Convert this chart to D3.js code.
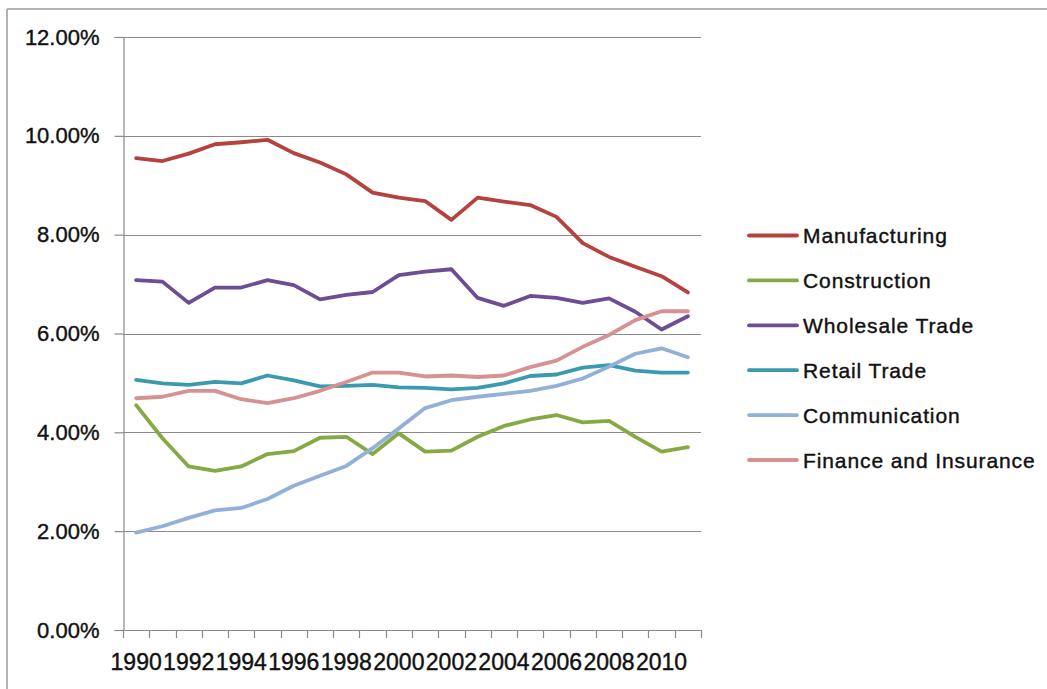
<!DOCTYPE html>
<html>
<head>
<meta charset="utf-8">
<script src="https://cdn.jsdelivr.net/npm/d3@7"></script>
<style>
  html, body { margin: 0; padding: 0; background: #fff; }
  svg { display: block; }
  text { font-family: "Liberation Sans", Arial, sans-serif; fill: #111; stroke: #111; stroke-width: 0.4px; }
</style>
</head>
<body>
<svg id="chart" width="1047" height="689"></svg>
<script>
const years = d3.range(1990, 2012);
const yTicks = [0, 2, 4, 6, 8, 10, 12];
const xLabelYears = [1990, 1992, 1994, 1996, 1998, 2000, 2002, 2004, 2006, 2008, 2010];

const seriesNames = ["Manufacturing", "Construction", "Wholesale Trade", "Retail Trade", "Communication", "Finance and Insurance"];
const seriesColors = ["#b5423f", "#86aa43", "#6d4d93", "#3b9ab0", "#93b0d9", "#d69190"];

const manufacturing = [9.55, 9.49, 9.64, 9.83, 9.87, 9.92, 9.65, 9.46, 9.22, 8.85, 8.75, 8.68, 8.30, 8.75, 8.67, 8.60, 8.36, 7.83, 7.55, 7.35, 7.16, 6.83];
const construction  = [4.55, 3.88, 3.31, 3.22, 3.31, 3.56, 3.62, 3.89, 3.91, 3.56, 3.98, 3.61, 3.63, 3.91, 4.13, 4.26, 4.35, 4.20, 4.23, 3.91, 3.61, 3.70];
const wholesale     = [7.08, 7.05, 6.62, 6.93, 6.93, 7.08, 6.98, 6.69, 6.78, 6.84, 7.18, 7.25, 7.30, 6.72, 6.56, 6.76, 6.72, 6.62, 6.71, 6.44, 6.08, 6.35];
const retail        = [5.06, 4.99, 4.96, 5.02, 4.99, 5.15, 5.05, 4.93, 4.94, 4.96, 4.91, 4.90, 4.87, 4.90, 4.99, 5.14, 5.17, 5.31, 5.36, 5.25, 5.21, 5.21];
const communication = [1.97, 2.10, 2.27, 2.42, 2.47, 2.65, 2.92, 3.12, 3.32, 3.68, 4.08, 4.49, 4.65, 4.72, 4.78, 4.84, 4.94, 5.09, 5.33, 5.59, 5.70, 5.52];
const finance       = [4.69, 4.72, 4.84, 4.84, 4.67, 4.59, 4.69, 4.84, 5.02, 5.21, 5.21, 5.13, 5.15, 5.12, 5.15, 5.32, 5.45, 5.73, 5.97, 6.27, 6.45, 6.45];

const seriesValues = [manufacturing, construction, wholesale, retail, communication, finance];

(function () {
const svg = d3.select("#chart");

// chart border (top and left edges visible)
svg.append("line").attr("x1", 7).attr("y1", 9).attr("x2", 1047).attr("y2", 9)
  .attr("stroke", "#9a9a9a").attr("stroke-width", 1.5);
svg.append("line").attr("x1", 7).attr("y1", 9).attr("x2", 7).attr("y2", 689)
  .attr("stroke", "#9a9a9a").attr("stroke-width", 1.5);

const pLeft = 123, pRight = 701, pTop = 37, pBottom = 630;

const x = d3.scaleBand().domain(years).range([pLeft, pRight]).paddingInner(0).paddingOuter(0);
const y = d3.scaleLinear().domain([0, 12]).range([pBottom, pTop]);

const gridColor = "#8a8a8a";

// horizontal gridlines
svg.append("g").selectAll("line").data(yTicks.filter(d => d > 0)).join("line")
  .attr("x1", pLeft).attr("x2", pRight)
  .attr("y1", d => Math.round(y(d)) + 0.5).attr("y2", d => Math.round(y(d)) + 0.5)
  .attr("stroke", gridColor).attr("stroke-width", 1.2);

// y axis
const yAxis = svg.append("g").attr("transform", `translate(${pLeft + 0.5},0)`)
  .call(d3.axisLeft(y).tickValues(yTicks).tickSize(9).tickPadding(15)
    .tickFormat(d => d3.format(".2f")(d) + "%"));
yAxis.select(".domain").attr("stroke", gridColor).attr("stroke-width", 1.2);
yAxis.selectAll(".tick line").attr("stroke", gridColor).attr("stroke-width", 1.2);
yAxis.selectAll(".tick text").attr("font-size", 22).attr("fill", "#111")
  .attr("font-family", "Liberation Sans, Arial, sans-serif");

// x axis line
svg.append("line").attr("x1", pLeft).attr("x2", pRight)
  .attr("y1", Math.round(y(0)) + 0.5).attr("y2", Math.round(y(0)) + 0.5)
  .attr("stroke", gridColor).attr("stroke-width", 1.2);

// x ticks at category boundaries
const boundaries = years.map(d => x(d)).concat([x(years[years.length - 1]) + x.bandwidth()]);
svg.append("g").selectAll("line").data(boundaries).join("line")
  .attr("x1", d => Math.round(d) + 0.5).attr("x2", d => Math.round(d) + 0.5)
  .attr("y1", pBottom).attr("y2", pBottom + 8)
  .attr("stroke", gridColor).attr("stroke-width", 1.2);

// x labels
svg.append("g").selectAll("text").data(xLabelYears).join("text")
  .attr("x", d => x(d) + x.bandwidth() / 2)
  .attr("y", 670)
  .attr("text-anchor", "middle")
  .attr("font-size", 23)
  .text(d => d);

// lines
const line = d3.line().x((d, i) => x(years[i]) + x.bandwidth() / 2).y(d => y(d));
svg.append("g").selectAll("path").data(seriesValues).join("path")
  .attr("d", d => line(d))
  .attr("fill", "none")
  .attr("stroke", (d, i) => seriesColors[i])
  .attr("stroke-width", 3.8)
  .attr("stroke-linejoin", "round")
  .attr("stroke-linecap", "round");

// legend
const legend = svg.append("g");
const legendY0 = 235.5, legendStep = 44.9;
seriesNames.forEach((name, i) => {
  const ly = legendY0 + i * legendStep;
  legend.append("line").attr("x1", 749).attr("x2", 797).attr("y1", ly).attr("y2", ly)
    .attr("stroke", seriesColors[i]).attr("stroke-width", 3.8).attr("stroke-linecap", "round");
  legend.append("text").attr("x", 803).attr("y", ly).attr("dy", "0.36em")
    .attr("font-size", 21).attr("letter-spacing", 0.9).text(name);
});
})();
</script>
</body>
</html>
